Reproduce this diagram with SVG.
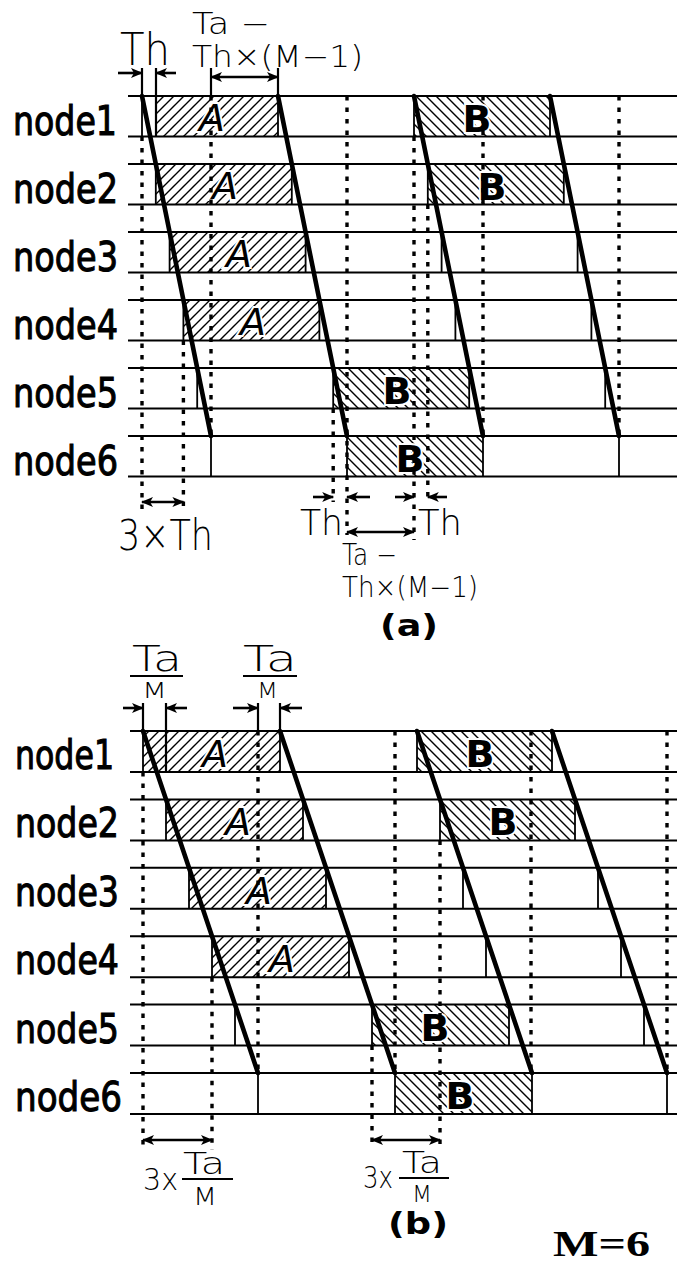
<svg xmlns="http://www.w3.org/2000/svg" width="677" height="1265" viewBox="0 0 677 1265">
<style>
.bg{fill:#fff}
.h{stroke:#000;stroke-width:2;fill:none}
.v{stroke:#000;stroke-width:1.8;fill:none}
.thick{stroke:#000;stroke-width:4.6;fill:none;stroke-linecap:round}
.dot{stroke:#000;stroke-width:3.4;fill:none;stroke-dasharray:4.5 7}
.tick{stroke:#000;stroke-width:2.2;fill:none}
.arr{stroke:#000;stroke-width:2.6;fill:none}
.node{font-family:"DejaVu Sans",sans-serif;font-size:40px;fill:#000;stroke:#000;stroke-width:1.1}
.lab{font-family:"DejaVu Sans","Liberation Sans",sans-serif;font-size:38px;fill:#000;stroke:#fff;stroke-width:4;paint-order:stroke;text-anchor:middle}
.math{font-family:"DejaVu Sans","Liberation Sans",sans-serif;font-weight:200;fill:#000}
.cap{font-family:"DejaVu Sans",sans-serif;font-weight:bold;fill:#000}
</style>
<defs>
<pattern id="hA" patternUnits="userSpaceOnUse" width="10" height="10">
<path d="M-2,2 L2,-2 M0,10 L10,0 M8,12 L12,8" stroke="#000" stroke-width="1.4"/>
</pattern>
<pattern id="hB" patternUnits="userSpaceOnUse" width="10" height="10">
<path d="M-2,8 L2,12 M0,0 L10,10 M8,-2 L12,2" stroke="#000" stroke-width="1.4"/>
</pattern>
<marker id="ah" viewBox="0 0 12 10" markerUnits="userSpaceOnUse" markerWidth="12" markerHeight="10" refX="11" refY="5" orient="auto-start-reverse">
<path d="M0,0 L12,5 L0,10 L3,5 z" fill="#000"/>
</marker>
</defs>
<rect class="bg" x="0" y="0" width="677" height="1265"/>

<!-- ===== (a) ===== -->
<g id="a-node1">
<rect x="156" y="96" width="122" height="40.5" fill="url(#hA)"/>
<rect x="414" y="96" width="136" height="40.5" fill="url(#hB)"/>
<path class="h" d="M128,96 H677 M128,136.5 H677"/>
<path class="v" d="M142,96 V136.5 M278,96 V136.5 M414,96 V136.5 M550,96 V136.5"/>
<text class="node" x="13" y="134.5" textLength="104" lengthAdjust="spacingAndGlyphs">node1</text>
<text class="lab" x="212" y="131" font-style="italic">A</text>
<text class="lab" x="477" y="132" font-weight="bold">B</text>
</g>
<g id="a-node2">
<rect x="155.8" y="164" width="136" height="40.5" fill="url(#hA)"/>
<rect x="427.8" y="164" width="136" height="40.5" fill="url(#hB)"/>
<path class="h" d="M128,164 H677 M128,204.5 H677"/>
<path class="v" d="M155.8,164 V204.5 M291.8,164 V204.5 M427.8,164 V204.5 M563.8,164 V204.5"/>
<text class="node" x="13" y="202.5" textLength="105" lengthAdjust="spacingAndGlyphs">node2</text>
<text class="lab" x="225" y="199" font-style="italic">A</text>
<text class="lab" x="492" y="200" font-weight="bold">B</text>
</g>
<g id="a-node3">
<rect x="169.6" y="232" width="136" height="40.5" fill="url(#hA)"/>
<path class="h" d="M128,232 H677 M128,272.5 H677"/>
<path class="v" d="M169.6,232 V272.5 M305.6,232 V272.5 M441.6,232 V272.5 M577.6,232 V272.5"/>
<text class="node" x="13" y="270.5" textLength="105" lengthAdjust="spacingAndGlyphs">node3</text>
<text class="lab" x="239" y="267" font-style="italic">A</text>
</g>
<g id="a-node4">
<rect x="183.4" y="300" width="136" height="40.5" fill="url(#hA)"/>
<path class="h" d="M128,300 H677 M128,340.5 H677"/>
<path class="v" d="M183.4,300 V340.5 M319.4,300 V340.5 M455.4,300 V340.5 M591.4,300 V340.5"/>
<text class="node" x="13" y="338.5" textLength="105" lengthAdjust="spacingAndGlyphs">node4</text>
<text class="lab" x="253" y="335" font-style="italic">A</text>
</g>
<g id="a-node5">
<rect x="333.2" y="368" width="136" height="40.5" fill="url(#hB)"/>
<path class="h" d="M128,368 H677 M128,408.5 H677"/>
<path class="v" d="M197.2,368 V408.5 M333.2,368 V408.5 M469.2,368 V408.5 M605.2,368 V408.5"/>
<text class="node" x="13" y="406.5" textLength="105" lengthAdjust="spacingAndGlyphs">node5</text>
<text class="lab" x="397" y="404" font-weight="bold">B</text>
</g>
<g id="a-node6">
<rect x="347" y="436" width="136" height="40.5" fill="url(#hB)"/>
<path class="h" d="M128,436 H677 M128,476.5 H677"/>
<path class="v" d="M211,436 V476.5 M347,436 V476.5 M483,436 V476.5 M619,436 V476.5"/>
<text class="node" x="13" y="474.5" textLength="105" lengthAdjust="spacingAndGlyphs">node6</text>
<text class="lab" x="410" y="472" font-weight="bold">B</text>
</g>

<!-- ===== (b) ===== -->
<g id="b-node1">
<rect x="143" y="731" width="137" height="41" fill="url(#hA)"/>
<rect x="417" y="731" width="135" height="41" fill="url(#hB)"/>
<path class="h" d="M130,731 H677 M130,772 H677"/>
<path class="v" d="M143,731 V772 M280,731 V772 M417,731 V772 M552,731 V772"/>
<text class="node" x="15" y="769" textLength="99" lengthAdjust="spacingAndGlyphs">node1</text>
<text class="lab" x="215" y="767" font-style="italic">A</text>
<text class="lab" x="480" y="767" font-weight="bold">B</text>
</g>
<g id="b-node2">
<rect x="166" y="799.4" width="137" height="41" fill="url(#hA)"/>
<rect x="440" y="799.4" width="135" height="41" fill="url(#hB)"/>
<path class="h" d="M130,799.4 H677 M130,840.4 H677"/>
<path class="v" d="M166,799.4 V840.4 M303,799.4 V840.4 M440,799.4 V840.4 M575,799.4 V840.4"/>
<text class="node" x="15" y="837" textLength="104" lengthAdjust="spacingAndGlyphs">node2</text>
<text class="lab" x="238" y="835.4" font-style="italic">A</text>
<text class="lab" x="503" y="835.4" font-weight="bold">B</text>
</g>
<g id="b-node3">
<rect x="189" y="867.8" width="137" height="41" fill="url(#hA)"/>
<path class="h" d="M130,867.8 H677 M130,908.8 H677"/>
<path class="v" d="M189,867.8 V908.8 M326,867.8 V908.8 M463,867.8 V908.8 M598,867.8 V908.8"/>
<text class="node" x="15" y="906" textLength="104" lengthAdjust="spacingAndGlyphs">node3</text>
<text class="lab" x="259" y="903.8" font-style="italic">A</text>
</g>
<g id="b-node4">
<rect x="212" y="936.2" width="137" height="41" fill="url(#hA)"/>
<path class="h" d="M130,936.2 H677 M130,977.2 H677"/>
<path class="v" d="M212,936.2 V977.2 M349,936.2 V977.2 M486,936.2 V977.2 M621,936.2 V977.2"/>
<text class="node" x="15" y="974" textLength="104" lengthAdjust="spacingAndGlyphs">node4</text>
<text class="lab" x="282" y="972" font-style="italic">A</text>
</g>
<g id="b-node5">
<rect x="372" y="1004.6" width="137" height="41" fill="url(#hB)"/>
<path class="h" d="M130,1004.6 H677 M130,1045.6 H677"/>
<path class="v" d="M235,1004.6 V1045.6 M372,1004.6 V1045.6 M509,1004.6 V1045.6 M644,1004.6 V1045.6"/>
<text class="node" x="15" y="1042.6" textLength="104" lengthAdjust="spacingAndGlyphs">node5</text>
<text class="lab" x="435" y="1040.6" font-weight="bold">B</text>
</g>
<g id="b-node6">
<rect x="395" y="1073" width="137" height="41" fill="url(#hB)"/>
<path class="h" d="M130,1073 H677 M130,1114 H677"/>
<path class="v" d="M258,1073 V1114 M395,1073 V1114 M532,1073 V1114 M667,1073 V1114"/>
<text class="node" x="15" y="1111" textLength="107" lengthAdjust="spacingAndGlyphs">node6</text>
<text class="lab" x="460" y="1109" font-weight="bold">B</text>
</g>

<g id="connectors">
<!-- (a) thick propagation lines -->
<path class="thick" d="M142,96 L211,436 M278,96 L347,436 M414,96 L483,436 M550,96 L619,436"/>
<!-- (a) dotted guides -->
<path class="dot" d="M142,136.5 V512 M183.4,340.5 V512 M211,96 V436 M333.2,408.5 V502 M347,96 V535 M414,136.5 V540 M427.8,204.5 V502 M483,96 V436 M619,96 V436"/>
<!-- (a) ticks -->
<path class="tick" d="M142,68 V96 M156,68 V136.5 M211,68 V96 M278,68 V96"/>
<!-- (a) arrows -->
<path class="arr" marker-end="url(#ah)" d="M118,73 H142"/>
<path class="arr" marker-end="url(#ah)" d="M176,73 H156"/>
<path class="arr" marker-start="url(#ah)" marker-end="url(#ah)" d="M211,77 H278"/>
<path class="arr" marker-start="url(#ah)" marker-end="url(#ah)" d="M142,502 H183.4"/>
<path class="arr" marker-end="url(#ah)" d="M313,497 H333.2"/>
<path class="arr" marker-end="url(#ah)" d="M370,497 H347"/>
<path class="arr" marker-end="url(#ah)" d="M395,497 H414"/>
<path class="arr" marker-end="url(#ah)" d="M447,497 H427.8"/>
<path class="arr" marker-start="url(#ah)" marker-end="url(#ah)" d="M347,532 H414"/>

<!-- (b) thick propagation lines -->
<path class="thick" d="M143,731 L258,1073 M280,731 L395,1073 M417,731 L532,1073 M552,731 L667,1073"/>
<!-- (b) dotted guides -->
<path class="dot" d="M143,772 V1148 M212,977.2 V1150 M258,731 V1073 M372,1045.6 V1146 M395,731 V1073 M440,840.4 V1150 M531,731 V1073 M667,731 V1073"/>
<!-- (b) ticks -->
<path class="tick" d="M143,703 V731 M166,703 V772 M258,703 V731 M280,703 V731"/>
<!-- (b) arrows -->
<path class="arr" marker-end="url(#ah)" d="M123,708 H143"/>
<path class="arr" marker-end="url(#ah)" d="M187,708 H166"/>
<path class="arr" marker-end="url(#ah)" d="M233,708 H258"/>
<path class="arr" marker-end="url(#ah)" d="M302,708 H280"/>
<path class="arr" marker-start="url(#ah)" marker-end="url(#ah)" d="M143,1140 H212"/>
<path class="arr" marker-start="url(#ah)" marker-end="url(#ah)" d="M372,1140 H440"/>
</g>

<g id="labels-a">
<text class="math" x="120" y="65" font-size="44" textLength="50" lengthAdjust="spacingAndGlyphs">Th</text>
<text class="math" x="192" y="34" font-size="30" textLength="78" lengthAdjust="spacingAndGlyphs">Ta −</text>
<text class="math" x="192" y="67" font-size="30" textLength="171" lengthAdjust="spacingAndGlyphs">Th×(M−1)</text>
<text class="math" x="118" y="550" font-size="42" textLength="95" lengthAdjust="spacingAndGlyphs">3×Th</text>
<text class="math" x="300" y="535" font-size="35" textLength="43" lengthAdjust="spacingAndGlyphs">Th</text>
<text class="math" x="418" y="535" font-size="35" textLength="44" lengthAdjust="spacingAndGlyphs">Th</text>
<text class="math" x="342" y="565" font-size="30" textLength="55" lengthAdjust="spacingAndGlyphs">Ta −</text>
<text class="math" x="342" y="597" font-size="28" textLength="136" lengthAdjust="spacingAndGlyphs">Th×(M−1)</text>
<text class="cap" x="380" y="636" font-size="30" textLength="58" lengthAdjust="spacingAndGlyphs">(a)</text>
</g>

<g id="labels-b">
<text class="math" x="132" y="671" font-size="35" textLength="50" lengthAdjust="spacingAndGlyphs">Ta</text>
<path class="tick" d="M130,676 H183 M243,676 H297 M182,1179 H233 M399,1178 H449"/>
<text class="math" x="142" y="698" font-size="21" textLength="25" lengthAdjust="spacingAndGlyphs">M</text>
<text class="math" x="243" y="671" font-size="35" textLength="54" lengthAdjust="spacingAndGlyphs">Ta</text>
<text class="math" x="257" y="698" font-size="21" textLength="21" lengthAdjust="spacingAndGlyphs">M</text>
<text class="math" x="143" y="1190" font-size="30" textLength="35" lengthAdjust="spacingAndGlyphs">3x</text>
<text class="math" x="183" y="1174" font-size="30" textLength="42" lengthAdjust="spacingAndGlyphs">Ta</text>
<text class="math" x="193" y="1205" font-size="24" textLength="24" lengthAdjust="spacingAndGlyphs">M</text>
<text class="math" x="363" y="1188" font-size="30" textLength="30" lengthAdjust="spacingAndGlyphs">3x</text>
<text class="math" x="402" y="1173" font-size="30" textLength="40" lengthAdjust="spacingAndGlyphs">Ta</text>
<text class="math" x="412" y="1202" font-size="23" textLength="20" lengthAdjust="spacingAndGlyphs">M</text>
<text class="cap" x="388" y="1234" font-size="30" textLength="60" lengthAdjust="spacingAndGlyphs">(b)</text>
<text x="553" y="1256" font-family="'Liberation Serif',serif" font-weight="bold" font-size="35" textLength="97" lengthAdjust="spacingAndGlyphs">M=6</text>
</g>
</svg>
